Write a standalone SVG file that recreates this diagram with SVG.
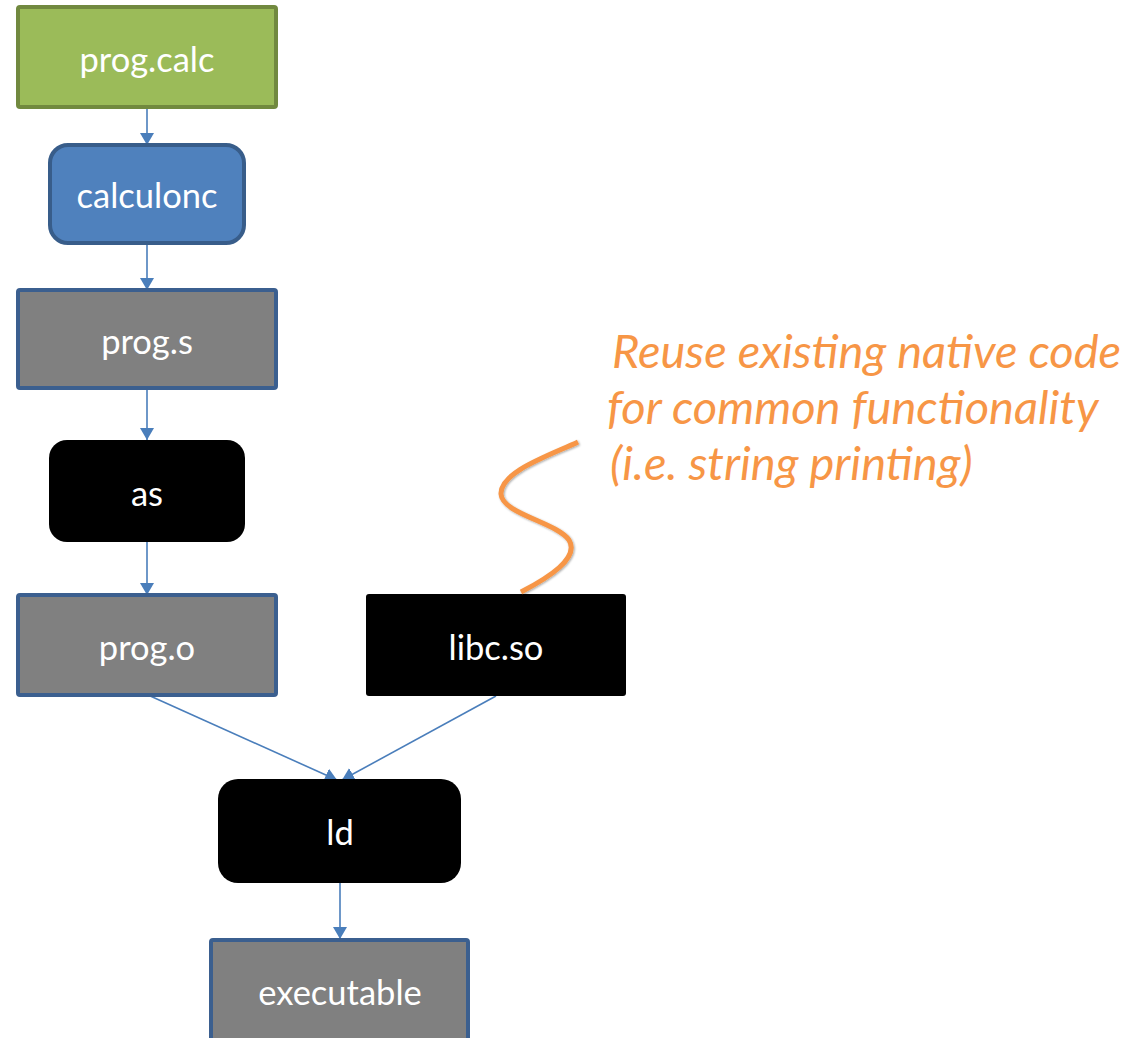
<svg xmlns="http://www.w3.org/2000/svg" width="1130" height="1038" viewBox="0 0 1130 1038">
  <style>
    .lbl { font-family: Lato, "Open Sans", "Liberation Sans", sans-serif; font-size: 34.5px; fill: #ffffff; text-anchor: middle; dominant-baseline: central; }
    .file { fill: #808080; stroke: #3B5F8F; stroke-width: 4; }
    .tool { fill: #000000; }
    .edge { stroke: #4A7EBB; stroke-width: 1.6; fill: none; marker-end: url(#arrow); }
    .note { font-family: Lato, "Open Sans", "Liberation Sans", sans-serif; font-style: italic; font-size: 47px; fill: #F79646; }
  </style>
  <defs>
    <marker id="arrow" viewBox="0 0 12 14" refX="12" refY="7" markerWidth="12" markerHeight="14" markerUnits="userSpaceOnUse" orient="auto">
      <path d="M0,0 L12,7 L0,14 Z" fill="#4A7EBB"/>
    </marker>
    <filter id="soft" x="-20%" y="-20%" width="140%" height="140%">
      <feDropShadow dx="1" dy="1" stdDeviation="1.2" flood-color="#000" flood-opacity="0.35"/>
    </filter>
  </defs>
  <rect width="1130" height="1038" fill="#ffffff"/>

  <g id="connectors">
    <line class="edge" x1="147" y1="107" x2="147" y2="145"/>
    <line class="edge" x1="147" y1="243" x2="147" y2="290"/>
    <line class="edge" x1="147" y1="388" x2="147" y2="440"/>
    <line class="edge" x1="147" y1="542" x2="147" y2="595"/>
    <line class="edge" x1="148" y1="695" x2="337" y2="780"/>
    <line class="edge" x1="496" y1="696" x2="342" y2="780"/>
    <line class="edge" x1="340" y1="883" x2="340" y2="939"/>
  </g>

  <g id="prog-calc">
    <rect x="18" y="7" width="258" height="100" rx="2" fill="#9BBB59" stroke="#71893F" stroke-width="4"/>
    <text class="lbl" x="147" y="58">prog.calc</text>
  </g>
  <g id="calculonc">
    <rect x="50" y="145" width="194" height="98" rx="18" fill="#4F81BD" stroke="#385D8A" stroke-width="4"/>
    <text class="lbl" x="147" y="194">calculonc</text>
  </g>
  <g id="prog-s">
    <rect class="file" x="18" y="290" width="258" height="98" rx="2"/>
    <text class="lbl" x="147" y="340">prog.s</text>
  </g>
  <g id="as">
    <rect class="tool" x="49" y="440" width="196" height="102" rx="18"/>
    <text class="lbl" x="147" y="492">as</text>
  </g>
  <g id="prog-o">
    <rect class="file" x="18" y="595" width="258" height="100" rx="2"/>
    <text class="lbl" x="147" y="646">prog.o</text>
  </g>
  <g id="libc-so">
    <rect class="tool" x="366" y="594" width="260" height="102" rx="3"/>
    <text class="lbl" x="496" y="646">libc.so</text>
  </g>
  <g id="ld">
    <rect class="tool" x="218" y="779" width="243" height="104" rx="20"/>
    <text class="lbl" x="340" y="831">ld</text>
  </g>
  <g id="executable">
    <rect class="file" x="211" y="940" width="257" height="110" rx="2"/>
    <text class="lbl" x="340" y="991">executable</text>
  </g>

  <g id="callout">
    <path d="M578,442 C548,456 500,472 501,494 C502,514 556,522 569,540 C580,558 548,578 521,592" fill="none" stroke="#F79646" stroke-width="5" filter="url(#soft)"/>
    <text class="note" x="612" y="368">Reuse existing native code</text>
    <text class="note" x="607" y="424">for common functionality</text>
    <text class="note" x="610" y="480">(i.e. string printing)</text>
  </g>
</svg>
